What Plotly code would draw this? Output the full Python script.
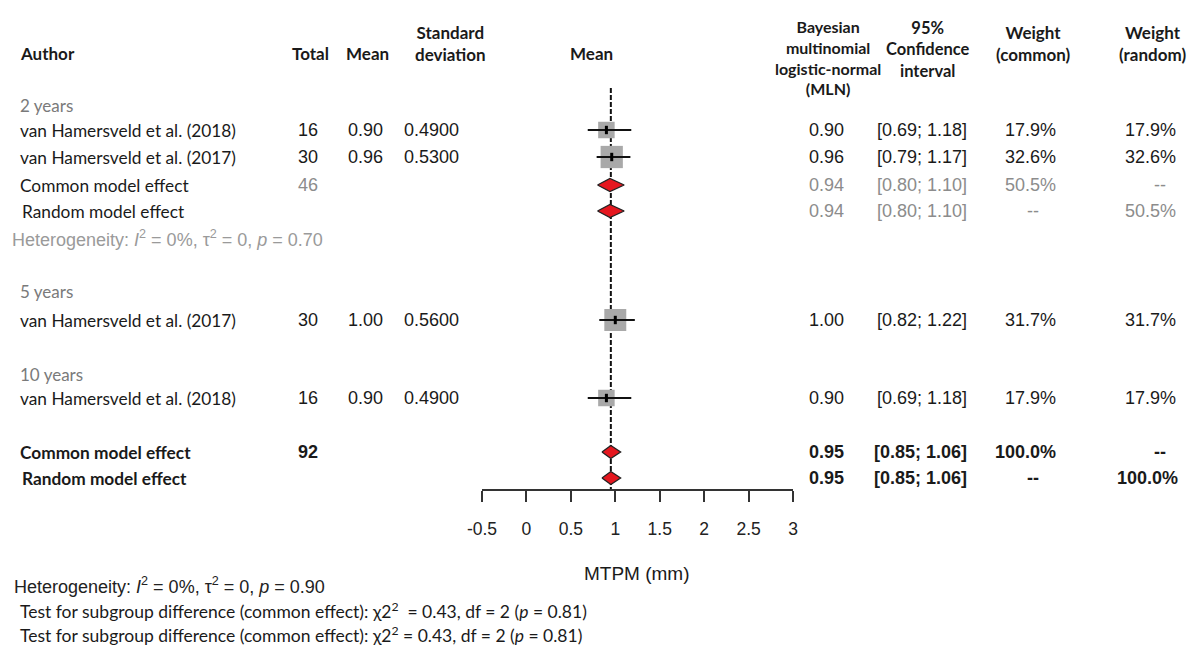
import plotly.graph_objects as go

# ---------------- data ----------------
subgroups = ["2 years", "5 years", "10 years"]
studies = ["van Hamersveld et al. (2018)", "van Hamersveld et al. (2017)",
           "van Hamersveld et al. (2017)", "van Hamersveld et al. (2018)"]
study_group = [0, 0, 1, 2]
totals = [16, 30, 30, 16]
means = [0.90, 0.96, 1.00, 0.90]
sds = [0.4900, 0.5300, 0.5600, 0.4900]
mln = [0.90, 0.96, 1.00, 0.90]
ci_lo = [0.69, 0.79, 0.82, 0.69]
ci_hi = [1.18, 1.17, 1.22, 1.18]
w_common = [17.9, 32.6, 31.7, 17.9]
w_random = [17.9, 32.6, 31.7, 17.9]

# pooled subgroup (2 years)
sub_total = 46
sub_est = 0.94
sub_lo = 0.80
sub_hi = 1.10
sub_w = 50.5
sub_het = (0, 0, 0.70)  # I2 %, tau2, p

# overall
all_total = 92
all_est = 0.95
all_lo = 0.85
all_hi = 1.06
all_w = 100.0
all_het = (0, 0, 0.90)
test_chi2, test_df, test_p = 0.43, 2, 0.81

x_ticks = [-0.5, 0, 0.5, 1, 1.5, 2, 2.5, 3]
x_ticktext = ["-0.5", "0", "0.5", "1", "1.5", "2", "2.5", "3"]

# ---------------- layout (pixel rows) ----------------
W, H = 1197, 645
group_y = [105, 291, 374]
study_y = [130, 157, 320, 398]
sub_common_y, sub_random_y, sub_het_y = 185, 211, 238
all_common_y, all_random_y = 452, 478
axis_y = 490
line_top = 88

LBL = "Lato, 'Open Sans', sans-serif"
NUM = "'Liberation Sans', Arial, sans-serif"
NARROW = "'Liberation Sans Narrow', 'Liberation Sans', Arial, sans-serif"
DARK = "#1a1a1a"
GRAY = "#8c8c8c"

fig = go.Figure()

# dashed reference line at the overall estimate
fig.add_trace(go.Scatter(x=[all_est, all_est], y=[line_top, axis_y], mode="lines",
                         line=dict(color="#111", width=2, dash="5px,2px"),
                         hoverinfo="skip", showlegend=False))

# study squares + CIs
for i in range(len(studies)):
    y = study_y[i]
    fig.add_trace(go.Scatter(x=[mln[i]], y=[y], mode="markers",
                             marker=dict(symbol="square", size=3.9 * w_common[i] ** 0.5,
                                         color="#a9a9a9", line=dict(width=0)),
                             hoverinfo="skip", showlegend=False))
    fig.add_trace(go.Scatter(x=[ci_lo[i], ci_hi[i]], y=[y, y], mode="lines",
                             line=dict(color="#111", width=2.2),
                             hoverinfo="skip", showlegend=False))
    fig.add_trace(go.Scatter(x=[mln[i]], y=[y], mode="markers",
                             marker=dict(symbol="line-ns", size=6,
                                         line=dict(color="#000", width=3)),
                             hoverinfo="skip", showlegend=False))


def diamond(est, lo, hi, y, h=6.5):
    fig.add_trace(go.Scatter(x=[lo, est, hi, est, lo], y=[y, y - h, y, y + h, y],
                             mode="lines", fill="toself", fillcolor="#e5171f",
                             line=dict(color="#222", width=1.3),
                             hoverinfo="skip", showlegend=False))


diamond(sub_est, sub_lo, sub_hi, sub_common_y)
diamond(sub_est, sub_lo, sub_hi, sub_random_y)
diamond(all_est, all_lo, all_hi, all_common_y)
diamond(all_est, all_lo, all_hi, all_random_y)

ann = []


def txt(x, y, s, size=17, color=DARK, font=LBL, anchor="left", bold=False):
    if bold:
        s = "<b>" + s + "</b>"
    ann.append(dict(x=x / W, y=y, xref="paper", yref="y", text=s, showarrow=False,
                    xanchor=anchor, yanchor="middle", align="center",
                    font=dict(family=font, size=size, color=color)))


# headers
txt(18, 53, "Author", 17, bold=True)
txt(310, 53, "Total", 17, anchor="center", bold=True)
txt(367, 53, "Mean", 17, anchor="center", bold=True)
txt(450, 43, "Standard<br>deviation", 17, anchor="center", bold=True)
txt(591, 53, "Mean", 17, anchor="center", bold=True)
txt(828, 57, "Bayesian<br>multinomial<br>logistic-normal<br>(MLN)", 16, anchor="center", bold=True)
txt(928, 49, "95%<br>Confidence<br>interval", 16.5, anchor="center", bold=True)
txt(1033, 43, "Weight<br>(common)", 17, anchor="center", bold=True)
txt(1152, 43, "Weight<br>(random)", 17, anchor="center", bold=True)

# subgroup headers
for g, y in zip(subgroups, group_y):
    txt(18, y, g, 17, color="#7a7a7a")

# study rows
for i in range(len(studies)):
    y = study_y[i]
    txt(18, y, studies[i], 17.3)
    txt(320, y, f"{totals[i]}", 18, font=NUM, anchor="right")
    txt(385, y, f"{means[i]:.2f}", 18, font=NUM, anchor="right")
    txt(461, y, f"{sds[i]:.4f}", 18, font=NUM, anchor="right")
    txt(846, y, f"{mln[i]:.2f}", 18, font=NUM, anchor="right")
    txt(969, y, f"[{ci_lo[i]:.2f}; {ci_hi[i]:.2f}]", 18, font=NUM, anchor="right")
    txt(1058, y, f"{w_common[i]:.1f}%", 18, font=NUM, anchor="right")
    txt(1178, y, f"{w_random[i]:.1f}%", 18, font=NUM, anchor="right")

# subgroup pooled rows
txt(18, sub_common_y, "Common model effect", 17.3)
txt(20, sub_random_y, "Random model effect", 17.3)
txt(320, sub_common_y, f"{sub_total}", 18, color=GRAY, font=NUM, anchor="right")
for y, wc, wr in [(sub_common_y, f"{sub_w:.1f}%", "--"), (sub_random_y, "--", f"{sub_w:.1f}%")]:
    txt(846, y, f"{sub_est:.2f}", 18, color=GRAY, font=NUM, anchor="right")
    txt(969, y, f"[{sub_lo:.2f}; {sub_hi:.2f}]", 18, color=GRAY, font=NUM, anchor="right")
    if wc == "--":
        txt(1033, y, wc, 18, color=GRAY, font=NUM, anchor="center")
    else:
        txt(1058, y, wc, 18, color=GRAY, font=NUM, anchor="right")
    if wr == "--":
        txt(1160, y, wr, 18, color=GRAY, font=NUM, anchor="center")
    else:
        txt(1178, y, wr, 18, color=GRAY, font=NUM, anchor="right")
txt(10, sub_het_y,
    f"Heterogeneity: <i>I</i><sup>2</sup> = {sub_het[0]}%, τ<sup>2</sup> = {sub_het[1]}, <i>p</i> = {sub_het[2]:.2f}",
    18, color="#9a9a9a", font=NARROW)

# overall rows
txt(18, all_common_y, "Common model effect", 17.3, bold=True)
txt(20, all_random_y, "Random model effect", 17.3, bold=True)
txt(320, all_common_y, f"{all_total}", 18, font=NUM, anchor="right", bold=True)
for y, wc, wr in [(all_common_y, f"{all_w:.1f}%", "--"), (all_random_y, "--", f"{all_w:.1f}%")]:
    txt(846, y, f"{all_est:.2f}", 18, font=NUM, anchor="right", bold=True)
    txt(969, y, f"[{all_lo:.2f}; {all_hi:.2f}]", 18, font=NUM, anchor="right", bold=True)
    if wc == "--":
        txt(1033, y, wc, 18, font=NUM, anchor="center", bold=True)
    else:
        txt(1058, y, wc, 18, font=NUM, anchor="right", bold=True)
    if wr == "--":
        txt(1160, y, wr, 18, font=NUM, anchor="center", bold=True)
    else:
        txt(1180, y, wr, 18, font=NUM, anchor="right", bold=True)

# axis title and footer
txt(637, 573, "MTPM (mm)", 19, font=NUM, anchor="center")
txt(12, 585,
    f"Heterogeneity: <i>I</i><sup>2</sup> = {all_het[0]}%, τ<sup>2</sup> = {all_het[1]}, <i>p</i> = {all_het[2]:.2f}",
    18, color="#222", font=NARROW)
txt(18, 610,
    f"Test for subgroup difference (common effect): χ2<sup>2</sup>  = {test_chi2:.2f}, df = {test_df} (<i>p</i> = {test_p:.2f})",
    17.5)
txt(18, 634,
    f"Test for subgroup difference (common effect): χ2<sup>2</sup> = {test_chi2:.2f}, df = {test_df} (<i>p</i> = {test_p:.2f})",
    17.5)

fig.update_layout(
    template="none",
    width=W, height=H, margin=dict(l=0, r=0, t=0, b=0, pad=0, autoexpand=False),
    paper_bgcolor="white", plot_bgcolor="white",
    annotations=ann, showlegend=False,
    xaxis=dict(domain=[482 / W, 793 / W], range=[-0.5, 3], anchor="free",
               position=1 - axis_y / H, showline=True, linecolor="#333", linewidth=2,
               ticks="outside", ticklen=11, tickwidth=2, tickcolor="#333",
               tickvals=x_ticks, ticktext=x_ticktext, ticklabelstandoff=12,
               tickfont=dict(family=NUM, size=17.5, color="#222"), automargin=False,
               showgrid=False, zeroline=False, fixedrange=True),
    yaxis=dict(domain=[0, 1], range=[H, 0], visible=False, fixedrange=True,
               automargin=False),
)

fig.write_html("out.html", config={"displayModeBar": False},
               post_script="document.body.style.margin='0';document.body.style.overflow='hidden';")
